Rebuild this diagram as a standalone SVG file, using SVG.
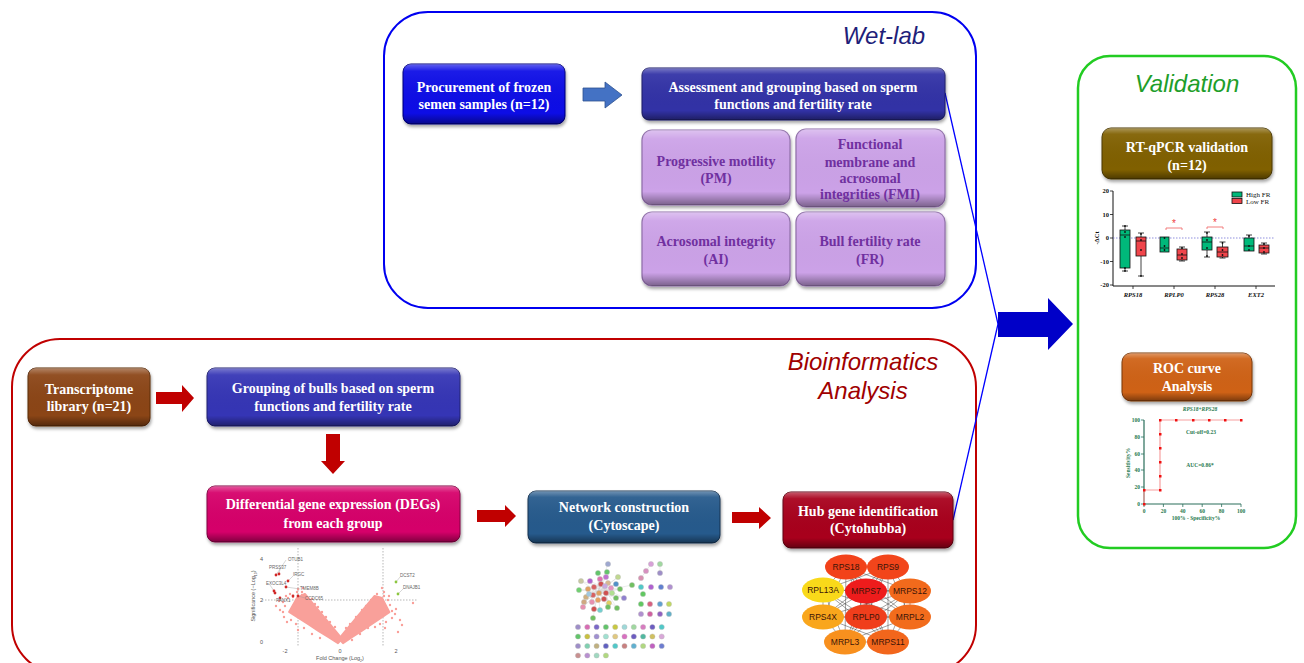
<svg xmlns="http://www.w3.org/2000/svg" width="1304" height="663" viewBox="0 0 1304 663">
<style>
.bt{font-family:"Liberation Serif",serif;font-weight:bold;font-size:14px;fill:#fff;text-anchor:middle}
.pt{font-family:"Liberation Serif",serif;font-weight:bold;font-size:14px;fill:#7030A0;text-anchor:middle}
.ttl{font-family:"Liberation Sans",sans-serif;font-style:italic;font-size:24px;text-anchor:middle}
.bev{fill:url(#bevel)}
.ra{fill:#C00000}
.conn{fill:none;stroke:#0000FF;stroke-width:1.3}
.ax{font-family:"Liberation Serif",serif;font-size:6.5px;font-weight:bold;fill:#111}
.cat{font-family:"Liberation Serif",serif;font-size:6.5px;font-weight:bold;font-style:italic;fill:#111;text-anchor:middle}
.gb{fill:#00B97A;stroke:#111;stroke-width:0.8}
.rb{fill:#F0454B;stroke:#111;stroke-width:0.8}
.wh{stroke:#111;stroke-width:0.8;fill:none}
.roc{font-family:"Liberation Serif",serif;font-size:5.5px;font-weight:bold;fill:#2A7A50}
.vl{font-family:"Liberation Sans",sans-serif;font-size:4.5px;fill:#666}
.vt{font-family:"Liberation Sans",sans-serif;font-size:5.5px;fill:#555}
.hl{font-family:"Liberation Sans",sans-serif;font-size:8.5px;fill:#3a1408;text-anchor:middle}
.cn{stroke:#d0d0d0;stroke-width:0.4}
.cloud{fill:#F9A09A;stroke:#F9A09A;stroke-width:2;stroke-linejoin:round}
</style>
<defs>
<linearGradient id="bevel" x1="0" y1="0" x2="0" y2="1">
<stop offset="0" stop-color="#fff" stop-opacity="0.35"/>
<stop offset="0.12" stop-color="#fff" stop-opacity="0.06"/>
<stop offset="0.82" stop-color="#000" stop-opacity="0"/>
<stop offset="1" stop-color="#000" stop-opacity="0.4"/>
</linearGradient>
<filter id="sh" x="-10%" y="-10%" width="125%" height="150%">
<feDropShadow dx="1" dy="2.5" stdDeviation="1.5" flood-color="#000" flood-opacity="0.35"/>
</filter>
<marker id="sq" viewBox="0 0 4 4" refX="2" refY="2" markerWidth="3" markerHeight="3" markerUnits="userSpaceOnUse">
<rect width="4" height="4" fill="#F01010"/>
</marker>
</defs>
<rect width="1304" height="663" fill="#fff"/>

<!-- Panels -->
<g id="wetlab-panel">
<rect x="384" y="12" width="592" height="296" rx="44" fill="none" stroke="#0000F0" stroke-width="2"/>
<text class="ttl" x="884" y="44" fill="#1F1F7A">Wet-lab</text>
</g>
<g id="bioinfo-panel">
<rect x="12" y="339" width="964" height="334" rx="48" fill="none" stroke="#C00000" stroke-width="2"/>
<text class="ttl" x="863" y="370" fill="#A00000">Bioinformatics</text>
<text class="ttl" x="863" y="399" fill="#A00000">Analysis</text>
</g>
<g id="validation-panel">
<rect x="1078" y="56" width="218" height="492" rx="32" fill="none" stroke="#22CC22" stroke-width="2.5"/>
<text class="ttl" x="1187" y="92" fill="#1E9E2A">Validation</text>
</g>

<!-- Connectors -->
<g id="connectors">
<polygon points="583,88 605,88 605,82 622,95 605,108 605,101 583,101" fill="#4472C4" stroke="#2F528F" stroke-width="0.8"/>
<polygon class="ra" points="156,392 182,392 182,385 194,398 182,412 182,404 156,404"/>
<polygon class="ra" points="326,434 340,434 340,461 345,461 333,474 321,461 326,461"/>
<polygon class="ra" points="477,510 505,510 505,505 516,516 505,527 505,522 477,522"/>
<polygon class="ra" points="732,512 759,512 759,507 771,518 759,529 759,523 732,523"/>
<line class="conn" x1="945" y1="93" x2="998" y2="324"/>
<line class="conn" x1="953" y1="520" x2="998" y2="324"/>
<polygon points="998,312 1048,312 1048,298 1073,324 1048,350 1048,337 998,337" fill="#0000C8"/>
</g>

<!-- Wet-lab nodes -->
<g id="procurement">
<rect x="403" y="64" width="162" height="60" rx="8" fill="#0707E6" stroke="#00007A" filter="url(#sh)"/>
<rect class="bev" x="403" y="64" width="162" height="60" rx="8"/>
<text class="bt" x="484" y="92">Procurement of frozen</text>
<text class="bt" x="484" y="109">semen samples (n=12)</text>
</g>
<g id="assessment">
<rect x="642" y="68" width="303" height="52" rx="7" fill="#3232A6" stroke="#1A1A66" filter="url(#sh)"/>
<rect class="bev" x="642" y="68" width="303" height="52" rx="7"/>
<text class="bt" x="793" y="92">Assessment and grouping based on sperm</text>
<text class="bt" x="793" y="109">functions and fertility rate</text>
</g>
<g id="pm">
<rect x="642" y="130" width="148" height="75" rx="10" fill="#CCA2E8" stroke="#8E6CA8" stroke-width="1.2" filter="url(#sh)"/>
<rect class="bev" x="642" y="130" width="148" height="75" rx="10"/>
<text class="pt" x="716" y="166">Progressive motility</text>
<text class="pt" x="716" y="183">(PM)</text>
</g>
<g id="fmi">
<rect x="796" y="129" width="149" height="78" rx="10" fill="#CCA2E8" stroke="#8E6CA8" stroke-width="1.2" filter="url(#sh)"/>
<rect class="bev" x="796" y="129" width="149" height="78" rx="10"/>
<text class="pt" x="870" y="149">Functional</text>
<text class="pt" x="870" y="167">membrane and</text>
<text class="pt" x="870" y="183">acrosomal</text>
<text class="pt" x="870" y="199">integrities (FMI)</text>
</g>
<g id="ai">
<rect x="642" y="212" width="148" height="74" rx="10" fill="#CCA2E8" stroke="#8E6CA8" stroke-width="1.2" filter="url(#sh)"/>
<rect class="bev" x="642" y="212" width="148" height="74" rx="10"/>
<text class="pt" x="716" y="246">Acrosomal integrity</text>
<text class="pt" x="716" y="264">(AI)</text>
</g>
<g id="fr">
<rect x="796" y="212" width="149" height="74" rx="10" fill="#CCA2E8" stroke="#8E6CA8" stroke-width="1.2" filter="url(#sh)"/>
<rect class="bev" x="796" y="212" width="149" height="74" rx="10"/>
<text class="pt" x="870" y="246">Bull fertility rate</text>
<text class="pt" x="870" y="264">(FR)</text>
</g>

<!-- Bioinformatics nodes -->
<g id="transcriptome">
<rect x="28" y="368" width="122" height="58" rx="8" fill="#8B4513" stroke="#5A2A08" filter="url(#sh)"/>
<rect class="bev" x="28" y="368" width="122" height="58" rx="8"/>
<text class="bt" x="89" y="394">Transcriptome</text>
<text class="bt" x="89" y="411">library (n=21)</text>
</g>
<g id="grouping">
<rect x="207" y="368" width="253" height="58" rx="8" fill="#3535B5" stroke="#1E1E70" filter="url(#sh)"/>
<rect class="bev" x="207" y="368" width="253" height="58" rx="8"/>
<text class="bt" x="333" y="393">Grouping of bulls based on sperm</text>
<text class="bt" x="333" y="411">functions and fertility rate</text>
</g>
<g id="degs">
<rect x="207" y="486" width="253" height="56" rx="8" fill="#D6006B" stroke="#800040" filter="url(#sh)"/>
<rect class="bev" x="207" y="486" width="253" height="56" rx="8"/>
<text class="bt" x="333" y="509">Differential gene expression (DEGs)</text>
<text class="bt" x="333" y="528">from each group</text>
</g>
<g id="network">
<rect x="528" y="491" width="192" height="52" rx="8" fill="#255A8C" stroke="#123050" filter="url(#sh)"/>
<rect class="bev" x="528" y="491" width="192" height="52" rx="8"/>
<text class="bt" x="624" y="512">Network construction</text>
<text class="bt" x="624" y="530">(Cytoscape)</text>
</g>
<g id="hub">
<rect x="783" y="492" width="170" height="56" rx="8" fill="#A8001F" stroke="#600010" filter="url(#sh)"/>
<rect class="bev" x="783" y="492" width="170" height="56" rx="8"/>
<text class="bt" x="868" y="516">Hub gene identification</text>
<text class="bt" x="868" y="533">(Cytohubba)</text>
</g>

<!-- Validation nodes -->
<g id="rtqpcr">
<rect x="1102" y="128" width="170" height="51" rx="9" fill="#806000" stroke="#4A3800" filter="url(#sh)"/>
<rect class="bev" x="1102" y="128" width="170" height="51" rx="9"/>
<text class="bt" x="1187" y="152">RT-qPCR validation</text>
<text class="bt" x="1187" y="170">(n=12)</text>
</g>
<g id="roc">
<rect x="1122" y="353" width="130" height="48" rx="9" fill="#CF6215" stroke="#7A3608" filter="url(#sh)"/>
<rect class="bev" x="1122" y="353" width="130" height="48" rx="9"/>
<text class="bt" x="1187" y="373">ROC curve</text>
<text class="bt" x="1187" y="391">Analysis</text>
</g>

<!-- qPCR chart -->
<g id="qpcr-chart">
<line x1="1113" y1="191" x2="1113" y2="286" stroke="#111" stroke-width="1"/>
<line x1="1113" y1="286" x2="1275" y2="286" stroke="#111" stroke-width="1"/>
<path d="M1110,191h3M1110,214.5h3M1110,238h3M1110,261.5h3M1110,285h3M1133,286v3M1174,286v3M1215,286v3M1256,286v3" stroke="#111" stroke-width="0.8"/>
<g class="ax" text-anchor="end">
<text x="1109" y="193">20</text><text x="1109" y="216.5">10</text><text x="1109" y="240">0</text><text x="1109" y="263.5">-10</text><text x="1109" y="287">-20</text>
</g>
<text class="ax" transform="translate(1099,238) rotate(-90)" text-anchor="middle">-ΔCt</text>
<line x1="1113" y1="238" x2="1275" y2="238" stroke="#6060D0" stroke-width="0.7" stroke-dasharray="1.5 1.5"/>
<path class="wh" d="M1125,226V271M1122,226h6M1122,271h6 M1141,233V276M1138,233h6M1138,276h6 M1164.5,237V252 M1182,247V261M1179,247h6M1179,261h6 M1207,232V257M1204,232h6M1204,257h6 M1222.5,242V258M1219.5,242h6M1219.5,258h6 M1249,235V251M1246,235h6 M1264,243V254M1261,243h6M1261,254h6"/>
<rect class="gb" x="1120" y="230" width="10" height="38"/>
<rect class="rb" x="1136" y="237" width="10" height="19"/>
<rect class="gb" x="1160" y="237" width="9" height="15"/>
<rect class="rb" x="1177" y="249" width="10" height="11"/>
<rect class="gb" x="1202" y="237" width="10" height="13"/>
<rect class="rb" x="1217" y="247" width="11" height="10"/>
<rect class="gb" x="1244" y="238" width="10" height="13"/>
<rect class="rb" x="1259" y="245" width="10" height="8"/>
<path class="wh" d="M1120,235h10M1136,241h10M1160,248h9M1177,255h10M1202,242h10M1217,252h11M1244,246h10M1259,248h10"/>
<path d="M1125,226h0M1125,232h0M1125,237h0M1125,268h0M1125,271h0M1141,234h0M1141,240h0M1141,250h0M1141,276h0M1164.5,238h0M1164.5,246h0M1164.5,250h0M1182,248h0M1182,254h0M1182,258h0M1207,233h0M1207,240h0M1207,248h0M1207,256h0M1222.5,243h0M1222.5,250h0M1222.5,255h0M1249,236h0M1249,246h0M1249,250h0M1264,244h0M1264,248h0M1264,252h0" stroke="#111" stroke-width="1.8" stroke-linecap="round"/>
<path d="M1166,230v-2h16v2M1207,229v-2h16v2" fill="none" stroke="#F07070" stroke-width="0.9"/>
<text x="1174" y="227" font-family="Liberation Sans, sans-serif" font-size="10" fill="#F04040" text-anchor="middle">*</text>
<text x="1215" y="226" font-family="Liberation Sans, sans-serif" font-size="10" fill="#F04040" text-anchor="middle">*</text>
<rect class="gb" x="1232" y="192" width="10" height="5"/>
<rect class="rb" x="1232" y="198.5" width="10" height="5"/>
<text x="1246" y="197" font-family="Liberation Serif, serif" font-size="7" fill="#111">High FR</text>
<text x="1246" y="204" font-family="Liberation Serif, serif" font-size="7" fill="#111">Low FR</text>
<text class="cat" x="1133" y="297">RPS18</text>
<text class="cat" x="1174" y="297">RPLP0</text>
<text class="cat" x="1215" y="297">RPS28</text>
<text class="cat" x="1256" y="297">EXT2</text>
</g>

<!-- ROC chart -->
<g id="roc-chart">
<text class="roc" x="1200" y="411" text-anchor="middle" font-style="italic">RPS18+RPS28</text>
<path d="M1144,420V504H1241" fill="none" stroke="#2A6E5A" stroke-width="1.2"/>
<path d="M1141,420h3M1141,437h3M1141,454h3M1141,470h3M1141,487h3M1141,504h3M1144,504v3M1163.4,504v3M1182.8,504v3M1202.2,504v3M1221.6,504v3M1241,504v3" stroke="#2A6E5A" stroke-width="0.8"/>
<g class="roc" text-anchor="end">
<text x="1140" y="422">100</text><text x="1140" y="439">80</text><text x="1140" y="456">60</text><text x="1140" y="472">40</text><text x="1140" y="489">20</text><text x="1140" y="506">0</text>
</g>
<g class="roc" text-anchor="middle">
<text x="1144" y="513">0</text><text x="1163.4" y="513">20</text><text x="1182.8" y="513">40</text><text x="1202.2" y="513">60</text><text x="1221.6" y="513">80</text><text x="1241" y="513">100</text>
<text x="1196" y="520">100% - Specificity%</text>
<text x="1201" y="434">Cut-off=0.23</text>
<text x="1200" y="467">AUC=0.86*</text>
<text transform="translate(1130,463) rotate(-90)">Sensitivity%</text>
</g>
<polyline points="1144,504 1144,490 1160,490 1160,476 1160,462 1160,448 1160,434 1160,420 1176,420 1193,420 1209,420 1225,420 1241,420" fill="none" stroke="#F7A0A0" stroke-width="1.2" marker-start="url(#sq)" marker-mid="url(#sq)" marker-end="url(#sq)"/>
</g>

<!-- Volcano plot -->
<g id="volcano">
<path d="M298,548V646M383,548V646M262,600H418" stroke="#999" stroke-width="0.7" stroke-dasharray="1.5 1.5"/>
<polygon class="cloud" points="342,638.8 334.6,629.8 327.2,620.8 319.7,611.9 312.3,603 304.9,594 297,598 289.1,612 298.9,618.2 308.7,624.5 318.4,630.8 328.2,637 338,643.2"/>
<polygon class="cloud" points="339,638.8 346.1,630.2 353.2,621.6 360.4,613 367.5,604.4 374.6,596 382,598 389.4,612.1 380.1,618.4 370.8,624.6 361.6,630.8 352.3,637 343,643.2"/>
<path d="M285,606h0M283,612h0M288,598h0M293,597h0M296,600h0M302,592h0M306,597h0M310,600h0M315,604h0M318,607h0M297,592h0M291,620h0M296,624h0M304,628h0M284,617h0M280,610h0M283,602h0M298,589h0M303,588h0M290,594h0M286,596h0M309,604h0M322,612h0M326,617h0M302,595h0M312,599h0M279,601h0M276,606h0M312,634h0M320,638h0M298,630h0M287,622h0M330,622h0M335,627h0M390,605h0M392,611h0M388,600h0M384,596h0M380,598h0M392,618h0M386,622h0M380,624h0M375,627h0M395,614h0M400,620h0M402,625h0M413,603h0M384,592h0M382,588h0M371,600h0M366,606h0M360,634h0M352,640h0M398,632h0M396,609h0M389,596h0M377,594h0M362,610h0M356,617h0M368,628h0M385,628h0M346,628h0M350,624h0" stroke="#F9A09A" stroke-width="2.4" stroke-linecap="round"/>
<path d="M276,575L286,560M279,574L280,569M288,581L293,576M274,591L270,585M286,587L300,589M280,598L279,601M298,596L305,598M396,582L400,577M398,594L403,589" stroke="#999" stroke-width="0.4"/>
<path d="M276,575h0M279,574h0M288,581h0M274,591h0M275,593h0M286,587h0M280,598h0M293,596h0M298,596h0" stroke="#D02828" stroke-width="2.8" stroke-linecap="round"/>
<path d="M396,582h0M398,594h0" stroke="#8CC63F" stroke-width="2.8" stroke-linecap="round"/>
<text class="vl" x="288" y="561">OTUB1</text>
<text class="vl" x="269" y="569">PRSS37</text>
<text class="vl" x="293" y="576">IRGC</text>
<text class="vl" x="266" y="585">EXOC3L4</text>
<text class="vl" x="300" y="590">TMEM8B</text>
<text class="vl" x="276" y="602">PANX1</text>
<text class="vl" x="305" y="600">CCDC65</text>
<text class="vl" x="400" y="577">DCST2</text>
<text class="vl" x="403" y="589">DNAJB1</text>
<g class="vt" text-anchor="end"><text x="263" y="561">4</text><text x="263" y="602">2</text><text x="263" y="644">0</text></g>
<g class="vt" text-anchor="middle"><text x="285" y="653">-2</text><text x="340" y="653">0</text><text x="396" y="653">2</text></g>
<text class="vt" x="340" y="660" text-anchor="middle" font-size="5">Fold Change (Log<tspan font-size="3.5" baseline-shift="sub">2</tspan>)</text>
<text class="vt" transform="translate(255,596) rotate(-90)" text-anchor="middle" font-size="5">Significance (−Log<tspan font-size="3.5" baseline-shift="sub">10</tspan>)</text>
</g>

<!-- Cytoscape network -->
<g id="cytoscape">
<path class="cn" d="M598,592L608,564M598,592L598,573M598,592L607,572M598,592L581,581M598,592L590,581M598,592L600,579M598,592L606,577M598,592L618,577M598,592L579,590M598,592L588,589M598,592L594,587M598,592L601,584M598,592L608,583M598,592L616,584M598,592L620,589M598,592L611,588M598,592L632,585M598,592L586,597M598,592L593,595M598,592L606,593M598,592L612,593M598,592L624,598M598,592L584,602M598,592L592,602M598,592L598,600M598,592L604,599M598,592L609,603M598,592L616,598M598,592L583,607M598,592L594,609M598,592L600,610M598,592L608,607M598,592L617,608M598,592L593,618M604,588L581,581M604,588L590,581M604,588L618,577M604,588L579,590M604,588L586,597M604,588L612,593M604,588L624,598M604,588L584,602M604,588L609,603M604,588L617,608M604,588L583,607M594,595L616,584M594,595L620,589M594,595L600,579M601,584L586,597M601,584L609,603M641,578L646,571L651,564M660,564L660,573"/>
<g stroke="#bbb" stroke-width="0.4">
<circle cx="608" cy="564" r="2.6" fill="#9EA8D0"/><circle cx="598" cy="573" r="2.6" fill="#62C46A"/><circle cx="607" cy="572" r="2.6" fill="#62C46A"/><circle cx="581" cy="581" r="2.6" fill="#C8C8A0"/><circle cx="590" cy="581" r="2.6" fill="#B060D0"/><circle cx="600" cy="579" r="2.6" fill="#E070B0"/><circle cx="606" cy="577" r="2.6" fill="#C070D0"/><circle cx="618" cy="577" r="2.6" fill="#C0D890"/><circle cx="579" cy="590" r="2.6" fill="#70D070"/><circle cx="588" cy="589" r="2.6" fill="#E0A060"/><circle cx="594" cy="587" r="2.6" fill="#D86060"/><circle cx="601" cy="584" r="2.6" fill="#D05050"/><circle cx="608" cy="583" r="2.6" fill="#D8B890"/><circle cx="616" cy="584" r="2.6" fill="#5090C8"/><circle cx="620" cy="589" r="2.6" fill="#70C060"/><circle cx="611" cy="588" r="2.6" fill="#E890C0"/><circle cx="632" cy="585" r="2.6" fill="#70C060"/><circle cx="586" cy="597" r="2.6" fill="#D0B080"/><circle cx="593" cy="595" r="2.6" fill="#D86060"/><circle cx="599" cy="593" r="2.6" fill="#E0A060"/><circle cx="606" cy="593" r="2.6" fill="#D05050"/><circle cx="612" cy="593" r="2.6" fill="#B0E090"/><circle cx="624" cy="598" r="2.6" fill="#9080D0"/><circle cx="584" cy="602" r="2.6" fill="#D0A880"/><circle cx="592" cy="602" r="2.6" fill="#E890B0"/><circle cx="598" cy="600" r="2.6" fill="#E8A060"/><circle cx="604" cy="599" r="2.6" fill="#D05050"/><circle cx="609" cy="603" r="2.6" fill="#E0D060"/><circle cx="616" cy="598" r="2.6" fill="#70C060"/><circle cx="583" cy="607" r="2.6" fill="#E890B0"/><circle cx="594" cy="609" r="2.6" fill="#D05050"/><circle cx="600" cy="610" r="2.6" fill="#70D0D0"/><circle cx="608" cy="607" r="2.6" fill="#70C060"/><circle cx="617" cy="608" r="2.6" fill="#70C060"/><circle cx="593" cy="618" r="2.6" fill="#70C060"/><circle cx="605" cy="586" r="2.6" fill="#C8A8E0"/><circle cx="589" cy="594" r="2.6" fill="#A0C8E0"/>
<circle cx="651" cy="564" r="2.6" fill="#D8A0D8"/><circle cx="660" cy="564" r="2.6" fill="#A0D8A0"/><circle cx="646" cy="571" r="2.6" fill="#D890C0"/><circle cx="660" cy="573" r="2.6" fill="#9E8EC8"/><circle cx="641" cy="578" r="2.6" fill="#D890B0"/><circle cx="641" cy="587" r="2.6" fill="#50C8C8"/><circle cx="651" cy="587" r="2.6" fill="#B060D0"/><circle cx="661" cy="587" r="2.6" fill="#6080D0"/><circle cx="670" cy="587" r="2.6" fill="#B090D0"/><circle cx="643" cy="594" r="2.6" fill="#60C860"/><circle cx="641" cy="604" r="2.6" fill="#60C860"/><circle cx="650" cy="604" r="2.6" fill="#D86080"/><circle cx="660" cy="604" r="2.6" fill="#60A0D0"/><circle cx="669" cy="604" r="2.6" fill="#C0D860"/><circle cx="641" cy="614" r="2.6" fill="#B090D0"/><circle cx="650" cy="614" r="2.6" fill="#D060A0"/><circle cx="660" cy="614" r="2.6" fill="#9060C0"/><circle cx="669" cy="614" r="2.6" fill="#60B0C8"/>
<circle cx="578" cy="627" r="2.6" fill="#9E8EC8"/><circle cx="587.3" cy="627" r="2.6" fill="#D86CB4"/><circle cx="596.6" cy="627" r="2.6" fill="#7B68C8"/><circle cx="605.9" cy="627" r="2.6" fill="#62C46A"/><circle cx="615.2" cy="627" r="2.6" fill="#C8C840"/><circle cx="624.5" cy="627" r="2.6" fill="#9ED8D8"/><circle cx="633.8" cy="627" r="2.6" fill="#A0D8A0"/><circle cx="643.1" cy="627" r="2.6" fill="#D87CC0"/><circle cx="652.4" cy="627" r="2.6" fill="#6C5CC0"/><circle cx="661.7" cy="627" r="2.6" fill="#50C8C8"/>
<circle cx="578" cy="636.5" r="2.6" fill="#62C46A"/><circle cx="587.3" cy="636.5" r="2.6" fill="#C8C040"/><circle cx="596.6" cy="636.5" r="2.6" fill="#A090D0"/><circle cx="605.9" cy="636.5" r="2.6" fill="#A0E0D0"/><circle cx="615.2" cy="636.5" r="2.6" fill="#E0C880"/><circle cx="624.5" cy="636.5" r="2.6" fill="#D870C0"/><circle cx="633.8" cy="636.5" r="2.6" fill="#6C5CC0"/><circle cx="643.1" cy="636.5" r="2.6" fill="#50B8A0"/><circle cx="652.4" cy="636.5" r="2.6" fill="#D0C060"/><circle cx="661.7" cy="636.5" r="2.6" fill="#D8A8D8"/>
<circle cx="578" cy="646" r="2.6" fill="#9E8EC8"/><circle cx="587.3" cy="646" r="2.6" fill="#80D0B0"/><circle cx="596.6" cy="646" r="2.6" fill="#C0B080"/><circle cx="605.9" cy="646" r="2.6" fill="#6060C0"/><circle cx="615.2" cy="646" r="2.6" fill="#50C8C8"/><circle cx="624.5" cy="646" r="2.6" fill="#C88080"/><circle cx="633.8" cy="646" r="2.6" fill="#60B0D0"/><circle cx="643.1" cy="646" r="2.6" fill="#B0D880"/><circle cx="652.4" cy="646" r="2.6" fill="#C060C0"/><circle cx="661.7" cy="646" r="2.6" fill="#6C7CD0"/>
<circle cx="578" cy="655.5" r="2.6" fill="#C89090"/><circle cx="587.3" cy="655.5" r="2.6" fill="#B890D0"/><circle cx="596.6" cy="655.5" r="2.6" fill="#A0D8C0"/><circle cx="605.9" cy="655.5" r="2.6" fill="#B0D880"/>
</g>
</g>

<!-- Hub gene network -->
<g id="hub-network">
<path d="M846,567L888,567M846,567L823,590M846,567L866,591M846,567L910,591M846,567L823,617M846,567L866,617M846,567L910,617M846,567L845,642M846,567L888,642M888,567L823,590M888,567L866,591M888,567L910,591M888,567L823,617M888,567L866,617M888,567L910,617M888,567L845,642M888,567L888,642M823,590L866,591M823,590L910,591M823,590L823,617M823,590L866,617M823,590L910,617M823,590L845,642M823,590L888,642M866,591L910,591M866,591L823,617M866,591L866,617M866,591L910,617M866,591L845,642M866,591L888,642M910,591L823,617M910,591L866,617M910,591L910,617M910,591L845,642M910,591L888,642M823,617L866,617M823,617L910,617M823,617L845,642M823,617L888,642M866,617L910,617M866,617L845,642M866,617L888,642M910,617L845,642M910,617L888,642M845,642L888,642" stroke="#444" stroke-width="0.5" fill="none"/>
<ellipse cx="846" cy="567" rx="21" ry="12.5" fill="#F2421A"/>
<ellipse cx="888" cy="567" rx="21" ry="12.5" fill="#F2451B"/>
<ellipse cx="823" cy="590" rx="21" ry="12.5" fill="#F9D91A"/>
<ellipse cx="866" cy="591" rx="21" ry="12.5" fill="#EE1C1C"/>
<ellipse cx="910" cy="591" rx="21" ry="12.5" fill="#F26A1C"/>
<ellipse cx="823" cy="617" rx="21" ry="12.5" fill="#F9A61C"/>
<ellipse cx="866" cy="617" rx="21" ry="12.5" fill="#F03E1C"/>
<ellipse cx="910" cy="617" rx="21" ry="12.5" fill="#F26C1C"/>
<ellipse cx="845" cy="642" rx="21" ry="12.5" fill="#F8901E"/>
<ellipse cx="888" cy="642" rx="21" ry="12.5" fill="#F2661C"/>
<text class="hl" x="846" y="570">RPS18</text>
<text class="hl" x="888" y="570">RPS9</text>
<text class="hl" x="823" y="593">RPL13A</text>
<text class="hl" x="866" y="594">MRPS7</text>
<text class="hl" x="910" y="594">MRPS12</text>
<text class="hl" x="823" y="620">RPS4X</text>
<text class="hl" x="866" y="620">RPLP0</text>
<text class="hl" x="910" y="620">MRPL2</text>
<text class="hl" x="845" y="645">MRPL3</text>
<text class="hl" x="888" y="645">MRPS11</text>
</g>
</svg>
